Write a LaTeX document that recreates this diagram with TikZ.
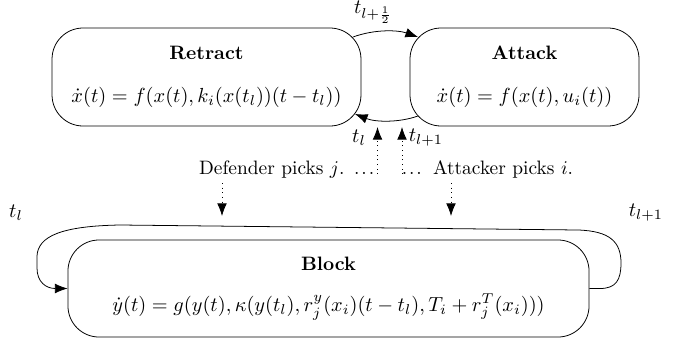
\documentclass[tikz,border=0pt]{standalone}
\usepackage{graphicx}
\usetikzlibrary{arrows.meta}
\newcommand{\spdots}{.\kern1pt.\kern1pt.}
\newcommand{\mth}[1]{\scalebox{1.05}{#1}}
\begin{document}
\begin{tikzpicture}[x=0.5153pt,y=0.5153pt,
  state/.style={draw, rounded corners=16pt, align=center, inner sep=0pt},
  arr/.style={-{Latex[length=6.5pt,width=5pt]}},
  darr/.style={dotted, -{Latex[length=6.5pt,width=5pt]}},
  lbl/.style={inner sep=0pt}]
\useasboundingbox (0,0) rectangle (687,-343);

\node[state, minimum width=159.2pt, minimum height=50.5pt] (retract) at (206.5,-77)
  {\textbf{Retract}\\[10pt] \mth{$\dot{x}(t)=f(x(t),k_i(x(t_l))(t-t_l))$}};
\node[state, minimum width=118pt, minimum height=50.5pt] (attack) at (524.5,-77)
  {\textbf{Attack}\\[10pt] \mth{$\dot{x}(t)=f(x(t),u_i(t))$}};
\node[state, minimum width=268.5pt, minimum height=50pt] (block) at (328.5,-288.5)
  {\textbf{Block}\\[9pt] \mth{$\dot{y}(t)=g(y(t),\kappa(y(t_l),r^y_j(x_i)(t-t_l),T_i+r^T_j(x_i)))$}};

% corner points on the rounded borders
\coordinate (rNE) at (353,-37);
\coordinate (aNW) at (418,-37);
\coordinate (aSW) at (418,-116);
\coordinate (rSE) at (355,-114);

\draw[arr] (rNE) .. controls (375,-29) and (398,-30) .. (aNW);
\draw[arr] (aSW) .. controls (398,-123) and (375,-122) .. (rSE);

\node[lbl] (thalf) at (373,-12.5) {\mth{$t_{l+\frac{1}{2}}$}};
\node[lbl] (tl) at (359,-138) {\mth{$t_l$}};
\node[lbl] (tl1) at (426,-138) {\mth{$t_{l+1}$}};

% texts
\node[lbl, anchor=base east] (def) at (374.6,-174) {Defender picks $j$.\hspace{5pt}\spdots};
\node[lbl, anchor=base west] (att) at (401.4,-174) {\spdots\hspace{5.8pt}Attacker picks $i$.};

\coordinate (defU) at (377.5,-174);
\coordinate (attU) at (402,-174);
\coordinate (defUt) at (377.5,-127);
\coordinate (attUt) at (402,-127);
\draw[darr] (defU) -- (defUt);
\draw[darr] (attU) -- (attUt);

\coordinate (defD) at (222,-183);
\coordinate (attD) at (451,-183);
\coordinate (defDt) at (222,-216);
\coordinate (attDt) at (451,-216);
\draw[darr] (defD) -- (defDt);
\draw[darr] (attD) -- (attDt);

% loop
\draw[arr] (block.east) -- (600,-288.5) .. controls (616,-288.5) and (621,-280) .. (621,-263)
  .. controls (621,-242) and (610,-231) .. (578,-230) -- (120,-225)
  .. controls (62,-226) and (38,-236) .. (37,-256) -- (37,-268)
  .. controls (37,-282) and (46,-288.5) .. (block.west);

\node[lbl] (tlL) at (16,-213) {\mth{$t_l$}};
\node[lbl] (tl1R) at (646,-213) {\mth{$t_{l+1}$}};
\end{tikzpicture}
\end{document}
